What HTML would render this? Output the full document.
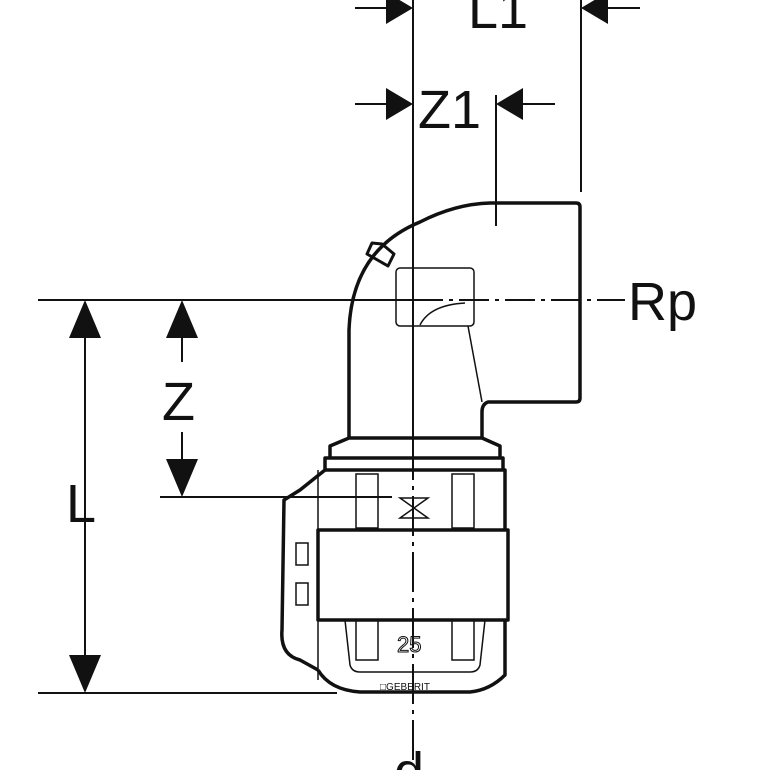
<!DOCTYPE html>
<html><head><style>html,body{margin:0;padding:0;background:#fff}svg{display:block}</style></head>
<body>
<svg width="770" height="770" viewBox="0 0 770 770" xmlns="http://www.w3.org/2000/svg">
<g stroke="#111" fill="none" stroke-width="2">
<line x1="413" y1="0" x2="413" y2="440"/>
<line x1="413" y1="440" x2="413" y2="760" stroke-dasharray="40,6,4,6"/>
<line x1="581" y1="0" x2="581" y2="192"/>
<line x1="496" y1="95" x2="496" y2="226"/>
<line x1="38" y1="300" x2="413" y2="300"/>
<line x1="413" y1="300" x2="625" y2="300" stroke-dasharray="30,6,4,6"/>
<line x1="160" y1="497" x2="392" y2="497"/>
<line x1="38" y1="693" x2="337" y2="693"/>
<line x1="355" y1="8" x2="395" y2="8"/>
<line x1="600" y1="8" x2="640" y2="8"/>
<line x1="355" y1="104" x2="395" y2="104"/>
<line x1="515" y1="104" x2="555" y2="104"/>
<line x1="85" y1="320" x2="85" y2="673"/>
<line x1="182" y1="320" x2="182" y2="362"/>
<line x1="182" y1="432" x2="182" y2="477"/>
</g>
<g fill="#111">
<polygon points="413,8 386,-8 386,24"/>
<polygon points="581,8 608,-8 608,24"/>
<polygon points="413,104 386,88 386,120"/>
<polygon points="496,104 523,88 523,120"/>
<polygon points="85,300 69,338 101,338"/>
<polygon points="85,693 69,655 101,655"/>
<polygon points="182,300 166,338 198,338"/>
<polygon points="182,497 166,459 198,459"/>
</g>
<g font-family="Liberation Sans, sans-serif" font-size="54" fill="#111">
<text x="468" y="28">L1</text>
<text x="418" y="128">Z1</text>
<text x="628" y="320">Rp</text>
<text x="66" y="522">L</text>
<text x="162" y="420">Z</text>
<text x="394" y="790">d</text>
</g>
<g stroke="#111" fill="none" stroke-width="3.5" stroke-linejoin="round">
<path d="M349,438 L349,330 Q352,250 420,222 Q455,204 490,203 L576,203 Q580,203 580,207 L580,398 Q580,402 576,402 L488,402 Q482,404 482,412 L482,438"/>
<path d="M330,458 L330,446 L349,438 L482,438 L500,446 L500,458"/>
<path d="M325,470 L325,458 L503,458 L503,470"/>
<path d="M325,470 L505,470 L505,530 M318,530 L508,530 L508,620 L318,620 Z"/>
<path d="M505,620 L505,675 Q490,690 470,692 L360,692 Q330,690 318,670"/>
<path d="M325,470 L300,490 L284,500 L282,630 Q280,655 300,660 L318,670"/>
<path d="M367,254 L372,243 L382,244 L394,254 L388,266 Z" stroke-width="3"/>
</g>
<g stroke="#111" fill="none" stroke-width="1.5">
<rect x="396" y="268" width="78" height="58" rx="4"/>
<path d="M420,325 Q430,305 465,303"/>
<line x1="468" y1="326" x2="482" y2="402"/>
<rect x="356" y="474" width="22" height="54"/>
<rect x="452" y="474" width="22" height="54"/>
<rect x="356" y="620" width="22" height="40"/>
<rect x="452" y="620" width="22" height="40"/>
<path d="M345,620 L350,665 Q352,672 360,672 L470,672 Q478,672 480,665 L485,620"/>
<rect x="296" y="543" width="12" height="22"/>
<rect x="296" y="583" width="12" height="22"/>
<line x1="318" y1="470" x2="318" y2="680"/>
<path d="M400,498 L428,498 L414,508 Z M400,518 L428,518 L414,508 Z"/>
</g>
<text x="397" y="652" font-family="Liberation Sans, sans-serif" font-size="22" fill="none" stroke="#111" stroke-width="1">25</text>
<text x="380" y="690" font-family="Liberation Sans, sans-serif" font-size="10" fill="#111">□GEBERIT</text>
</svg>
</body></html>
